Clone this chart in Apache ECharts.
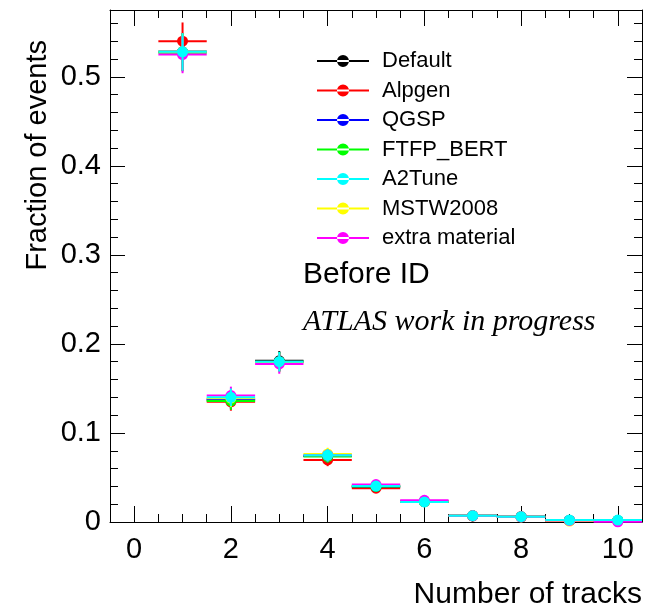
<!DOCTYPE html>
<html>
<head>
<meta charset="utf-8">
<script src="https://cdn.jsdelivr.net/npm/echarts@6/dist/echarts.min.js"></script>
<style>
  html, body { margin: 0; padding: 0; background: #fff; }
  #chart { width: 654px; height: 607px; }
</style>
</head>
<body>
<div id="chart"></div>
<script>
// Track multiplicity: fraction of events per number of tracks, for several samples
const bins = [1, 2, 3, 4, 5, 6, 7, 8, 9, 10];

const defaultVals = [0.528, 0.137, 0.181, 0.074, 0.040, 0.0228, 0.0070, 0.0058, 0.0018, 0.0015];
const alpgenVals  = [0.540, 0.135, 0.180, 0.0697, 0.038, 0.0228, 0.0068, 0.0057, 0.0018, 0.0014];
const qgspVals    = [0.528, 0.138, 0.180, 0.074, 0.040, 0.0230, 0.0070, 0.0058, 0.0018, 0.0015];
const ftfpVals    = [0.527, 0.136, 0.180, 0.0735, 0.040, 0.0230, 0.0070, 0.0058, 0.0018, 0.0015];
const a2tuneVals  = [0.528, 0.140, 0.180, 0.075, 0.0404, 0.0225, 0.0071, 0.0060, 0.0022, 0.0022];
const mstwVals    = [0.528, 0.139, 0.179, 0.0764, 0.041, 0.0230, 0.0070, 0.0058, 0.0010, 0.0015];
const extraVals   = [0.525, 0.142, 0.1775, 0.075, 0.042, 0.0244, 0.0070, 0.0058, 0.0018, 0.0002];

// statistical uncertainty per bin
const statErr = [0.021, 0.010, 0.011, 0.007, 0.004, 0.003, 0.0015, 0.0013, 0.0008, 0.0008];

const seriesNames  = ['Default', 'Alpgen', 'QGSP', 'FTFP_BERT', 'A2Tune', 'MSTW2008', 'extra material'];
const seriesValues = [defaultVals, alpgenVals, qgspVals, ftfpVals, a2tuneVals, mstwVals, extraVals];
const seriesColors = ['#000000', '#ff0000', '#0000ff', '#00ff00', '#00ffff', '#ffff00', '#ff00ff'];

const xMajor = [0, 2, 4, 6, 8, 10];
const xMinor = [-0.5, 0.5, 1, 1.5, 2.5, 3, 3.5, 4.5, 5, 5.5, 6.5, 7, 7.5, 8.5, 9, 9.5, 10.5];
const yMajor = [0, 0.1, 0.2, 0.3, 0.4, 0.5];
const yMinor = [0.02, 0.04, 0.06, 0.08, 0.12, 0.14, 0.16, 0.18, 0.22, 0.24, 0.26, 0.28,
                0.32, 0.34, 0.36, 0.38, 0.42, 0.44, 0.46, 0.48, 0.52, 0.54, 0.56];

const SANS = "'Liberation Sans', Arial, Helvetica, sans-serif";
const SERIF = "'Liberation Serif', 'Times New Roman', serif";

// histogram point: bin-width bar, vertical error bar, filled marker
function renderPoint(params, api) {
  const x = api.value(0), y = api.value(1), e = api.value(2);
  const pL = api.coord([x - 0.5, y]);
  const pR = api.coord([x + 0.5, y]);
  const pT = api.coord([x, y + e]);
  const pB = api.coord([x, y - e]);
  const pC = api.coord([x, y]);
  const c = api.visual('color');
  return {
    type: 'group',
    children: [
      { type: 'line', shape: { x1: pL[0], y1: pL[1], x2: pR[0], y2: pR[1] }, style: { stroke: c, lineWidth: 2 } },
      { type: 'line', shape: { x1: pT[0], y1: pT[1], x2: pB[0], y2: pB[1] }, style: { stroke: c, lineWidth: 2 } },
      { type: 'circle', shape: { cx: pC[0], cy: pC[1], r: 5.5 }, style: { fill: c } }
    ]
  };
}

const range = { min: -0.5, max: 10.5 };
const yRange = { min: 0, max: 0.575 };
const lineStyle = { color: '#000', width: 1 };

function xAxisDef(position, ticks, len, showLine, labels) {
  return Object.assign({
    type: 'value', position: position, gridIndex: 0,
    axisLine: { show: showLine, onZero: false, lineStyle: lineStyle },
    axisTick: { show: true, inside: true, length: len, customValues: ticks, lineStyle: lineStyle },
    axisLabel: labels ? {
      show: true, customValues: xMajor, fontSize: 29, fontFamily: SANS, color: '#000', margin: 13
    } : { show: false },
    splitLine: { show: false }
  }, range);
}

function yAxisDef(position, ticks, len, showLine, labels) {
  return Object.assign({
    type: 'value', position: position, gridIndex: 0,
    axisLine: { show: showLine, onZero: false, lineStyle: lineStyle },
    axisTick: { show: true, inside: true, length: len, customValues: ticks, lineStyle: lineStyle },
    axisLabel: labels ? {
      show: true, customValues: yMajor, fontSize: 29, fontFamily: SANS, color: '#000', margin: 9,
      formatter: v => (Math.abs(v) < 1e-9 ? '0' : v.toFixed(1))
    } : { show: false },
    splitLine: { show: false }
  }, yRange);
}

const chart = echarts.init(document.getElementById('chart'), null, { renderer: 'canvas' });

const series = seriesNames.map((name, i) => ({
  name: name,
  type: 'custom',
  xAxisIndex: 0,
  yAxisIndex: 0,
  z: name === 'A2Tune' ? 4 : 2,
  itemStyle: { color: seriesColors[i] },
  renderItem: renderPoint,
  encode: { x: 0, y: 1 },
  data: bins.map((b, k) => [b, seriesValues[i][k], statErr[k]])
}));

chart.setOption({
  animation: false,
  backgroundColor: '#fff',
  grid: { left: 110, right: 12, top: 10, bottom: 85 },
  xAxis: [
    xAxisDef('bottom', xMajor, 16, true, true),
    xAxisDef('bottom', xMinor, 8, false, false),
    xAxisDef('top', xMajor, 16, true, false),
    xAxisDef('top', xMinor, 8, false, false)
  ],
  yAxis: [
    yAxisDef('left', yMajor, 15, true, true),
    yAxisDef('left', yMinor, 8, false, false),
    yAxisDef('right', yMajor, 15, true, false),
    yAxisDef('right', yMinor, 8, false, false)
  ],
  legend: {
    orient: 'vertical',
    left: 317,
    top: 50,
    padding: 0,
    selectedMode: false,
    itemWidth: 52,
    itemHeight: 12,
    itemGap: 7.5,
    icon: 'path://M0,5H52V7H0Z M20,6A6,6 0 1,0 32,6A6,6 0 1,0 20,6Z',
    textStyle: { fontSize: 22, fontFamily: SANS, color: '#000', lineHeight: 22, padding: [0, 0, 0, 8] },
    data: seriesNames
  },
  graphic: [
    {
      type: 'text', x: 303, y: 275,
      style: { text: 'Before ID', font: '30px ' + SANS, fill: '#000', verticalAlign: 'middle' }
    },
    {
      type: 'text', x: 303, y: 322,
      style: { text: 'ATLAS work in progress', font: 'italic 30px ' + SERIF, fill: '#000', verticalAlign: 'middle' }
    },
    {
      type: 'text', x: 642, y: 595,
      style: { text: 'Number of tracks', font: '30px ' + SANS, fill: '#000', align: 'right', verticalAlign: 'middle' }
    },
    {
      type: 'text', x: 38, y: 40, rotation: Math.PI / 2,
      style: { text: 'Fraction of events', font: '29px ' + SANS, fill: '#000', align: 'right', verticalAlign: 'middle' }
    }
  ],
  series: series
});
</script>
</body>
</html>
